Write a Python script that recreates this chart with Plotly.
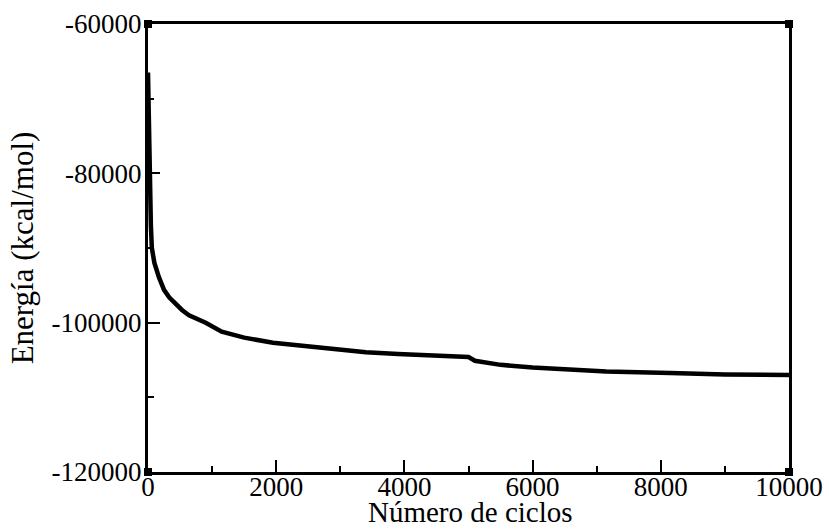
import plotly.graph_objects as go

ciclos = [0, 15, 30, 45, 60, 100, 170, 250, 330, 530, 640, 900, 1150, 1500, 1950,
          2500, 2900, 3400, 3900, 4500, 5000, 5100, 5500, 6000, 6500, 7150, 8150,
          9000, 10000]
energia = [-66500, -75000, -82000, -87000, -90000, -92000, -93900, -95600, -96600,
           -98300, -99000, -100000, -101200, -102000, -102700, -103200, -103600,
           -103950, -104200, -104400, -104600, -105100, -105650, -106000, -106300,
           -106550, -106750, -106950, -107000]

x_ticks = [0, 2000, 4000, 6000, 8000, 10000]
y_ticks = [-120000, -100000, -80000, -60000]

x_title = "Número de ciclos"
y_title = "Energía (kcal/mol)"

font_family = "Times New Roman, Liberation Serif, serif"

fig = go.Figure()
fig.add_trace(go.Scatter(x=ciclos, y=energia, mode="lines",
                         line=dict(color="black", width=4.5), showlegend=False))

fig.update_layout(
    width=829, height=529,
    margin=dict(l=148, r=40, t=24, b=57, autoexpand=False),
    paper_bgcolor="white", plot_bgcolor="white",
    font=dict(family=font_family, color="black", size=27),
)
fig.update_xaxes(
    range=[0, 10000], tickvals=x_ticks, ticktext=[str(v) for v in x_ticks],
    ticks="inside", ticklen=12, tickwidth=2, tickcolor="black",
    minor=dict(dtick=1000, ticks="inside", ticklen=6, tickwidth=2, tickcolor="black", showgrid=False),
    showline=True, linewidth=3, linecolor="black", mirror=True,
    showgrid=False, zeroline=False, automargin=False, ticklabelstandoff=-11,
    tickfont=dict(size=27, family=font_family, color="black"),
)
fig.update_yaxes(
    range=[-120000, -60000], tickvals=y_ticks, ticktext=[str(v) for v in y_ticks],
    ticks="inside", ticklen=12, tickwidth=2, tickcolor="black",
    minor=dict(dtick=10000, ticks="inside", ticklen=6, tickwidth=2, tickcolor="black", showgrid=False),
    showline=True, linewidth=3, linecolor="black", mirror=True,
    showgrid=False, zeroline=False, automargin=False, ticklabelstandoff=-2,
    tickfont=dict(size=27, family=font_family, color="black"),
)
fig.add_annotation(text=x_title, xref="paper", yref="paper", x=0.5025, y=-0.089,
                   xanchor="center", yanchor="middle", showarrow=False,
                   font=dict(size=29, family=font_family, color="black"))
fig.add_annotation(text=y_title, xref="paper", yref="paper", x=-0.196, y=0.5,
                   xanchor="center", yanchor="middle", showarrow=False, textangle=-90,
                   font=dict(size=31, family=font_family, color="black"))

# small corner markers as in the original xmgrace frame
for cx, cy in [(0, 0), (0, 1), (1, 0), (1, 1)]:
    fig.add_shape(type="rect", xref="paper", yref="paper",
                  xsizemode="pixel", ysizemode="pixel", xanchor=cx, yanchor=cy,
                  x0=-4, x1=4, y0=-4, y1=4,
                  fillcolor="black", line=dict(width=0), layer="above")

fig.write_html("out.html")
